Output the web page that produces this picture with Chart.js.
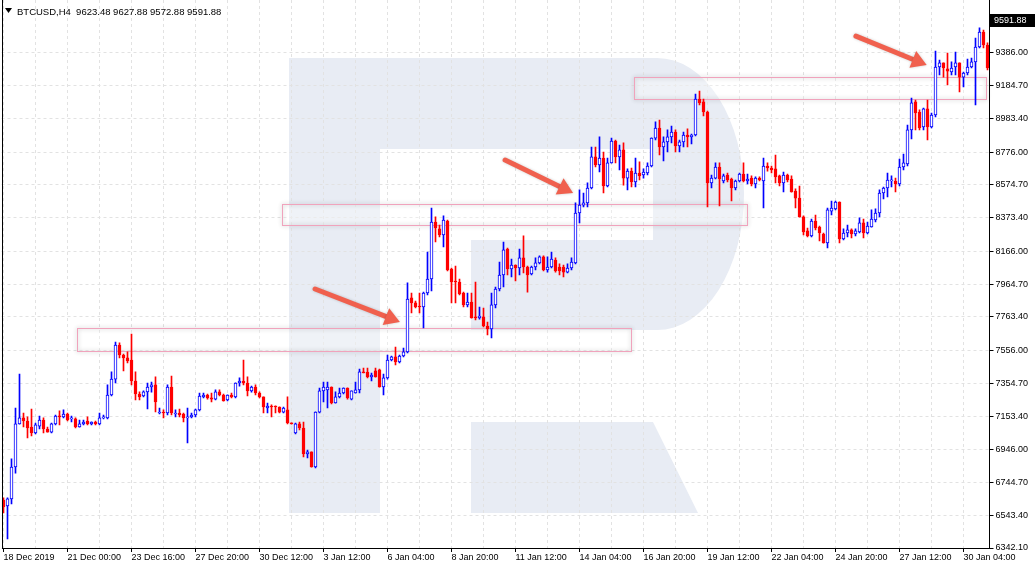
<!DOCTYPE html>
<html>
<head>
<meta charset="utf-8">
<script src="https://cdn.jsdelivr.net/npm/chart.js@4.4.1/dist/chart.umd.min.js"></script>
<style>
  html, body { margin: 0; padding: 0; background: #fff; }
  canvas { display: block; }
</style>
</head>
<body>
<canvas id="chart" width="1035" height="572"></canvas>
<script>
'use strict';

// BTCUSD H4 candles, oldest first
const opens = [
  6637, 6601, 6644, 6840, 7105, 7142, 7123, 7086, 7049, 7092, 7129, 7074, 7055, 7105, 7154, 7148,
  7166, 7136, 7136, 7086, 7105, 7123, 7105, 7117, 7105, 7142, 7142, 7283, 7381, 7590, 7529, 7511,
  7498, 7369, 7289, 7277, 7302, 7332, 7345, 7172, 7178, 7172, 7332, 7166, 7172, 7166, 7142, 7148,
  7160, 7191, 7271, 7283, 7265, 7258, 7302, 7283, 7252, 7283, 7271, 7357, 7369, 7357, 7308, 7332,
  7295, 7271, 7203, 7215, 7215, 7209, 7178, 7191, 7111, 7049, 7105, 7080, 6920, 6933, 6840, 7178,
  7308, 7314, 7332, 7234, 7271, 7295, 7326, 7258, 7295, 7314, 7425, 7424, 7394, 7431, 7437, 7332,
  7388, 7498, 7517, 7486, 7523, 7548, 7880, 7849, 7830, 7824, 7910, 7996, 8347, 8304, 8267, 8353,
  8058, 7984, 7978, 7910, 7837, 7855, 7763, 7757, 7763, 7707, 7689, 7837, 7935, 8021, 8181, 8058,
  8082, 8064, 8126, 8070, 8027, 8070, 8095, 8132, 8052, 8070, 8113, 8070, 8070, 8039, 8064, 8095,
  8402, 8451, 8464, 8556, 8747, 8697, 8740, 8568, 8710, 8845, 8747, 8790, 8617, 8660, 8593, 8648,
  8636, 8648, 8691, 8863, 8925, 8808, 8839, 8870, 8900, 8814, 8839, 8882, 8870, 8882, 9103, 9085,
  9023, 8587, 8617, 8685, 8599, 8636, 8611, 8556, 8599, 8642, 8599, 8617, 8581, 8617, 8599, 8691,
  8679, 8673, 8630, 8587, 8636, 8611, 8537, 8494, 8378, 8292, 8261, 8353, 8316, 8273, 8218, 8414,
  8427, 8470, 8242, 8279, 8298, 8273, 8285, 8341, 8279, 8316, 8359, 8402, 8525, 8556, 8599, 8599,
  8581, 8685, 8704, 8913, 9085, 9023, 8931, 9042, 8931, 9005, 9300, 9325, 9288, 9269, 9300, 9325,
  9238, 9263, 9300, 9331, 9423, 9515, 9435
];
const highs = [
  6650, 6650, 6890, 7203, 7412, 7172, 7148, 7197, 7111, 7154, 7142, 7086, 7111, 7160, 7185, 7191,
  7172, 7154, 7142, 7129, 7129, 7148, 7118, 7123, 7172, 7160, 7345, 7425, 7609, 7603, 7535, 7548,
  7658, 7425, 7302, 7308, 7357, 7363, 7394, 7203, 7191, 7345, 7400, 7191, 7197, 7172, 7203, 7172,
  7197, 7295, 7295, 7289, 7295, 7314, 7314, 7289, 7284, 7295, 7358, 7388, 7498, 7394, 7338, 7345,
  7302, 7272, 7234, 7222, 7216, 7210, 7209, 7271, 7112, 7111, 7117, 7117, 6945, 6934, 7179, 7326,
  7363, 7363, 7333, 7302, 7326, 7327, 7327, 7309, 7363, 7443, 7449, 7449, 7418, 7449, 7443, 7412,
  7529, 7523, 7578, 7529, 7572, 7972, 7910, 7861, 7910, 7916, 8162, 8433, 8378, 8328, 8384, 8359,
  8064, 8076, 7996, 7916, 7910, 7910, 7978, 7824, 7818, 7732, 7910, 7947, 8101, 8224, 8187, 8119,
  8083, 8181, 8261, 8076, 8076, 8126, 8138, 8138, 8132, 8162, 8126, 8089, 8082, 8089, 8126, 8464,
  8544, 8525, 8587, 8808, 8808, 8870, 8777, 8740, 8863, 8851, 8820, 8833, 8673, 8679, 8740, 8716,
  8673, 8710, 8864, 8962, 8974, 8870, 8913, 8937, 8913, 8851, 8900, 8919, 8888, 9134, 9152, 9103,
  9029, 8636, 8710, 8710, 8642, 8648, 8617, 8605, 8648, 8710, 8642, 8630, 8624, 8624, 8740, 8710,
  8691, 8759, 8636, 8654, 8642, 8630, 8550, 8568, 8384, 8310, 8365, 8390, 8322, 8279, 8433, 8476,
  8476, 8471, 8304, 8328, 8304, 8304, 8372, 8365, 8347, 8421, 8427, 8544, 8562, 8648, 8630, 8617,
  8734, 8765, 8943, 9109, 9097, 9036, 9048, 9097, 9017, 9398, 9343, 9325, 9386, 9331, 9392, 9325,
  9269, 9349, 9355, 9478, 9540, 9527, 9448
];
const lows = [
  6558, 6398, 6613, 6803, 7104, 7086, 7019, 7031, 7043, 7074, 7049, 7054, 7049, 7099, 7099, 7142,
  7123, 7117, 7080, 7085, 7099, 7099, 7099, 7099, 7099, 7136, 7136, 7277, 7357, 7511, 7431, 7480,
  7345, 7252, 7252, 7271, 7197, 7301, 7179, 7166, 7142, 7160, 7160, 7148, 7148, 7117, 6988, 7142,
  7148, 7185, 7265, 7258, 7240, 7252, 7277, 7245, 7246, 7265, 7265, 7338, 7345, 7277, 7301, 7283,
  7265, 7172, 7172, 7148, 7172, 7172, 7172, 7105, 7104, 7043, 7068, 6902, 6896, 6839, 6834, 7172,
  7240, 7203, 7228, 7233, 7265, 7289, 7258, 7252, 7294, 7295, 7418, 7388, 7369, 7393, 7331, 7283,
  7381, 7492, 7468, 7480, 7517, 7541, 7787, 7818, 7787, 7695, 7898, 7923, 8224, 8255, 8193, 8046,
  7849, 7849, 7898, 7824, 7824, 7756, 7744, 7750, 7701, 7652, 7634, 7818, 7923, 7947, 8021, 8009,
  7984, 8021, 8033, 7916, 8021, 8052, 8089, 8046, 8039, 8064, 8039, 8021, 8009, 8033, 8052, 8089,
  8341, 8439, 8439, 8550, 8685, 8654, 8525, 8562, 8709, 8710, 8667, 8574, 8544, 8562, 8562, 8605,
  8617, 8636, 8685, 8851, 8759, 8722, 8777, 8833, 8777, 8777, 8808, 8808, 8827, 8876, 9066, 8999,
  8439, 8556, 8611, 8445, 8587, 8593, 8476, 8544, 8593, 8593, 8581, 8568, 8556, 8599, 8433, 8660,
  8648, 8587, 8568, 8531, 8593, 8530, 8433, 8377, 8267, 8255, 8255, 8298, 8230, 8217, 8187, 8390,
  8421, 8218, 8236, 8255, 8249, 8261, 8279, 8249, 8273, 8315, 8347, 8378, 8488, 8501, 8562, 8531,
  8568, 8667, 8691, 8857, 8913, 8913, 8913, 8851, 8925, 8993, 9251, 9238, 9189, 9251, 9251, 9146,
  9177, 9251, 9294, 9066, 9417, 9417, 9282
];
const closes = [
  6594, 6644, 6840, 7105, 7142, 7123, 7080, 7049, 7099, 7129, 7074, 7055, 7105, 7154, 7148, 7166,
  7129, 7142, 7086, 7105, 7117, 7105, 7117, 7105, 7142, 7148, 7283, 7381, 7590, 7529, 7511, 7492,
  7369, 7289, 7271, 7302, 7332, 7345, 7240, 7178, 7172, 7332, 7172, 7172, 7160, 7142, 7148, 7160,
  7191, 7277, 7283, 7265, 7258, 7302, 7283, 7246, 7283, 7271, 7357, 7369, 7357, 7308, 7332, 7295,
  7271, 7209, 7215, 7209, 7209, 7178, 7203, 7111, 7106, 7105, 7080, 6920, 6933, 6840, 7178, 7308,
  7332, 7332, 7234, 7271, 7295, 7326, 7265, 7308, 7314, 7425, 7418, 7394, 7406, 7394, 7332, 7388,
  7498, 7517, 7486, 7523, 7548, 7873, 7849, 7824, 7824, 7910, 7996, 8347, 8310, 8267, 8359, 8052,
  7978, 7978, 7904, 7837, 7855, 7757, 7757, 7769, 7707, 7689, 7837, 7935, 8021, 8175, 8058, 8082,
  8064, 8126, 8070, 8021, 8070, 8095, 8132, 8052, 8070, 8119, 8046, 8046, 8039, 8064, 8101, 8402,
  8451, 8464, 8556, 8747, 8697, 8740, 8568, 8710, 8845, 8747, 8790, 8617, 8660, 8593, 8648, 8630,
  8654, 8691, 8863, 8925, 8808, 8839, 8870, 8900, 8814, 8839, 8882, 8870, 8882, 9103, 9079, 9023,
  8587, 8617, 8685, 8611, 8630, 8605, 8556, 8599, 8642, 8599, 8611, 8581, 8617, 8605, 8691, 8679,
  8667, 8624, 8587, 8636, 8605, 8531, 8494, 8378, 8285, 8261, 8353, 8310, 8279, 8218, 8421, 8433,
  8470, 8242, 8279, 8298, 8273, 8292, 8341, 8279, 8322, 8365, 8402, 8525, 8556, 8605, 8606, 8581,
  8685, 8710, 8913, 9079, 9017, 8925, 9042, 8931, 9005, 9300, 9325, 9294, 9275, 9294, 9325, 9238,
  9263, 9300, 9331, 9423, 9515, 9435, 9294
];

const timeLabels = [
  '18 Dec 2019', '21 Dec 00:00', '23 Dec 16:00', '27 Dec 20:00', '30 Dec 12:00', '3 Jan 12:00',
  '6 Jan 04:00', '8 Jan 20:00', '11 Jan 12:00', '14 Jan 04:00', '16 Jan 20:00', '19 Jan 12:00',
  '22 Jan 04:00', '24 Jan 20:00', '27 Jan 12:00', '30 Jan 04:00'
];
const priceTicks = [
  9386.00, 9184.70, 8983.40, 8776.00, 8574.70, 8373.40, 8166.00, 7964.70,
  7763.40, 7556.00, 7354.70, 7153.40, 6946.00, 6744.70, 6543.40, 6342.10
];
const lastPrice = 9591.88;
const header = 'BTCUSD,H4  9623.48 9627.88 9572.88 9591.88';

// zones: [fromBar, toBar, topPrice, bottomPrice]
const zones = [
  [18.4, 156.9, 7695, 7554],
  [69.6, 185.9, 8458, 8328],
  [157.6, 245.6, 9238, 9103]
];
// arrows: [tailBar, tailPrice, tipBar, tipPrice]
const arrows = [
  [77.9, 7935, 99.1, 7732],
  [125.4, 8728, 142.4, 8525],
  [213.1, 9490, 230.8, 9312]
];

const fontFamily = '"Liberation Sans", Arial, sans-serif';
const gridColor = '#e2e2e2';
const upColor = '#0000ff';
const downColor = '#ff0000';

let bars = opens.map((o, i) => i);
let isUp = opens.map((o, i) => closes[i] >= o);

// white page + faint "R" logo behind the grid
const watermark = {
  id: 'watermark',
  beforeDraw(chart) {
    const ctx = chart.ctx;
    ctx.save();
    ctx.fillStyle = '#fff';
    ctx.fillRect(0, 0, chart.width, chart.height);
    ctx.fillStyle = '#e8ecf4';
    ctx.beginPath();
    ctx.moveTo(289, 58);
    ctx.lineTo(657, 58);
    ctx.ellipse(657, 194, 87, 136, 0, -Math.PI / 2, Math.PI / 2);
    ctx.lineTo(471, 330);
    ctx.lineTo(471, 240);
    ctx.lineTo(653, 240);
    ctx.lineTo(653, 149);
    ctx.lineTo(380, 149);
    ctx.lineTo(380, 513);
    ctx.lineTo(289, 513);
    ctx.closePath();
    ctx.moveTo(471, 422);
    ctx.lineTo(653, 422);
    ctx.lineTo(698, 513);
    ctx.lineTo(471, 513);
    ctx.closePath();
    ctx.fill();
    ctx.restore();
  }
};

// support / resistance boxes
const zoneBoxes = {
  id: 'zoneBoxes',
  beforeDatasetsDraw(chart) {
    const ctx = chart.ctx;
    const xs = chart.scales.x;
    const ys = chart.scales.y;
    ctx.save();
    zones.forEach(z => {
      const x1 = Math.round(xs.getPixelForValue(z[0])) + 0.5;
      const x2 = Math.round(xs.getPixelForValue(z[1])) + 0.5;
      const y1 = Math.round(ys.getPixelForValue(z[2])) + 0.5;
      const y2 = Math.round(ys.getPixelForValue(z[3])) + 0.5;
      ctx.fillStyle = 'rgba(255,255,255,0.3)';
      ctx.fillRect(x1, y1, x2 - x1, y2 - y1);
      ctx.shadowColor = 'rgba(0,0,0,0.3)';
      ctx.shadowBlur = 4;
      ctx.strokeStyle = '#f0a3bc';
      ctx.lineWidth = 1;
      ctx.strokeRect(x1, y1, x2 - x1, y2 - y1);
      ctx.shadowBlur = 0;
    });
    ctx.restore();
  }
};

function drawArrow(ctx, x1, y1, x2, y2) {
  const a = Math.atan2(y2 - y1, x2 - x1);
  const len = 15;
  const half = 9;
  const bx = x2 - len * Math.cos(a);
  const by = y2 - len * Math.sin(a);
  ctx.lineWidth = 5;
  ctx.lineCap = 'round';
  ctx.beginPath();
  ctx.moveTo(x1, y1);
  ctx.lineTo(bx + Math.cos(a), by + Math.sin(a));
  ctx.stroke();
  ctx.beginPath();
  ctx.moveTo(x2, y2);
  ctx.lineTo(bx - half * Math.sin(a), by + half * Math.cos(a));
  ctx.lineTo(bx + half * Math.sin(a), by - half * Math.cos(a));
  ctx.closePath();
  ctx.fill();
}

const arrowMarks = {
  id: 'arrowMarks',
  afterDatasetsDraw(chart) {
    const ctx = chart.ctx;
    const xs = chart.scales.x;
    const ys = chart.scales.y;
    ctx.save();
    ctx.strokeStyle = '#f0604e';
    ctx.fillStyle = '#f0604e';
    ctx.shadowColor = 'rgba(0,0,0,0.2)';
    ctx.shadowBlur = 3;
    arrows.forEach(a => {
      drawArrow(ctx, xs.getPixelForValue(a[0]), ys.getPixelForValue(a[1]),
        xs.getPixelForValue(a[2]), ys.getPixelForValue(a[3]));
    });
    ctx.restore();
  }
};

// frame, header line and last price tag
const terminalBits = {
  id: 'terminalBits',
  afterDraw(chart) {
    const ctx = chart.ctx;
    const area = chart.chartArea;
    const ys = chart.scales.y;
    const right = Math.floor(area.right);
    const bottom = Math.round(area.bottom);
    ctx.save();
    ctx.fillStyle = '#000';
    ctx.fillRect(2, 0, 1, bottom + 1);
    ctx.fillRect(2, bottom, right - 1, 1);
    ctx.fillRect(right, 0, 1, bottom + 1);

    ctx.beginPath();
    ctx.moveTo(5, 8);
    ctx.lineTo(12, 8);
    ctx.lineTo(8.5, 13);
    ctx.closePath();
    ctx.fill();
    ctx.font = '9.5px ' + fontFamily;
    ctx.textBaseline = 'alphabetic';
    ctx.fillText(header, 17, 14.5);

    const py = Math.round(ys.getPixelForValue(lastPrice));
    ctx.fillRect(right + 1, py - 6, chart.width - right - 1, 13);
    ctx.fillStyle = '#fff';
    ctx.font = '9px ' + fontFamily;
    ctx.textBaseline = 'middle';
    ctx.fillText(lastPrice.toFixed(2), right + 5, py + 0.5);
    ctx.restore();
  }
};

const ctx = document.getElementById('chart').getContext('2d');
const myChart = new Chart(ctx, {
  type: 'bar',
  data: {
    labels: bars,
    datasets: [
      {
        label: 'body',
        data: opens.map((o, i) => [o, closes[i]]),
        backgroundColor: isUp.map(u => (u ? '#ffffff' : downColor)),
        borderColor: isUp.map(u => (u ? upColor : downColor)),
        borderWidth: 1,
        borderSkipped: false,
        barThickness: 3,
        minBarLength: 1,
        grouped: false,
        order: 1
      },
      {
        label: 'wick',
        data: lows.map((l, i) => [l, highs[i]]),
        backgroundColor: isUp.map(u => (u ? upColor : downColor)),
        borderWidth: 0,
        barThickness: 1,
        grouped: false,
        order: 2
      }
    ]
  },
  options: {
    responsive: false,
    animation: false,
    events: [],
    layout: { padding: { left: 1.5, top: 0, right: 0, bottom: 0 } },
    plugins: {
      legend: { display: false },
      tooltip: { enabled: false },
      title: { display: false }
    },
    scales: {
      x: {
        type: 'category',
        offset: true,
        afterFit(scale) {
          scale.height = 24;
          scale.paddingLeft = 0;
          scale.paddingRight = 0;
        },
        grid: {
          offset: false,
          color: c => (c.index % 8 === 0 ? gridColor : 'rgba(0,0,0,0)'),
          tickColor: c => (c.index % 16 === 0 ? '#000' : 'rgba(0,0,0,0)'),
          tickLength: 4,
          lineWidth: 1
        },
        border: { display: false, dash: [3, 3] },
        ticks: {
          autoSkip: false,
          maxRotation: 0,
          minRotation: 0,
          align: 'start',
          padding: 0,
          color: '#000',
          font: { family: fontFamily, size: 9 },
          callback: (value, index) => (index % 16 === 0 ? timeLabels[index / 16] : '')
        }
      },
      y: {
        type: 'linear',
        position: 'right',
        min: 6342.1,
        max: 9711.9,
        afterFit(scale) {
          scale.width = 45.5;
          scale.paddingTop = 0;
          scale.paddingBottom = 0;
        },
        afterBuildTicks(scale) {
          scale.ticks = priceTicks.map(v => ({ value: v }));
        },
        grid: {
          color: gridColor,
          tickColor: '#000',
          tickLength: 4,
          lineWidth: 1
        },
        border: { display: false, dash: [3, 3] },
        ticks: {
          padding: 2,
          color: '#000',
          font: { family: fontFamily, size: 9 },
          callback: v => v.toFixed(2)
        }
      }
    }
  },
  plugins: [watermark, zoneBoxes, arrowMarks, terminalBits]
});
</script>
</body>
</html>
